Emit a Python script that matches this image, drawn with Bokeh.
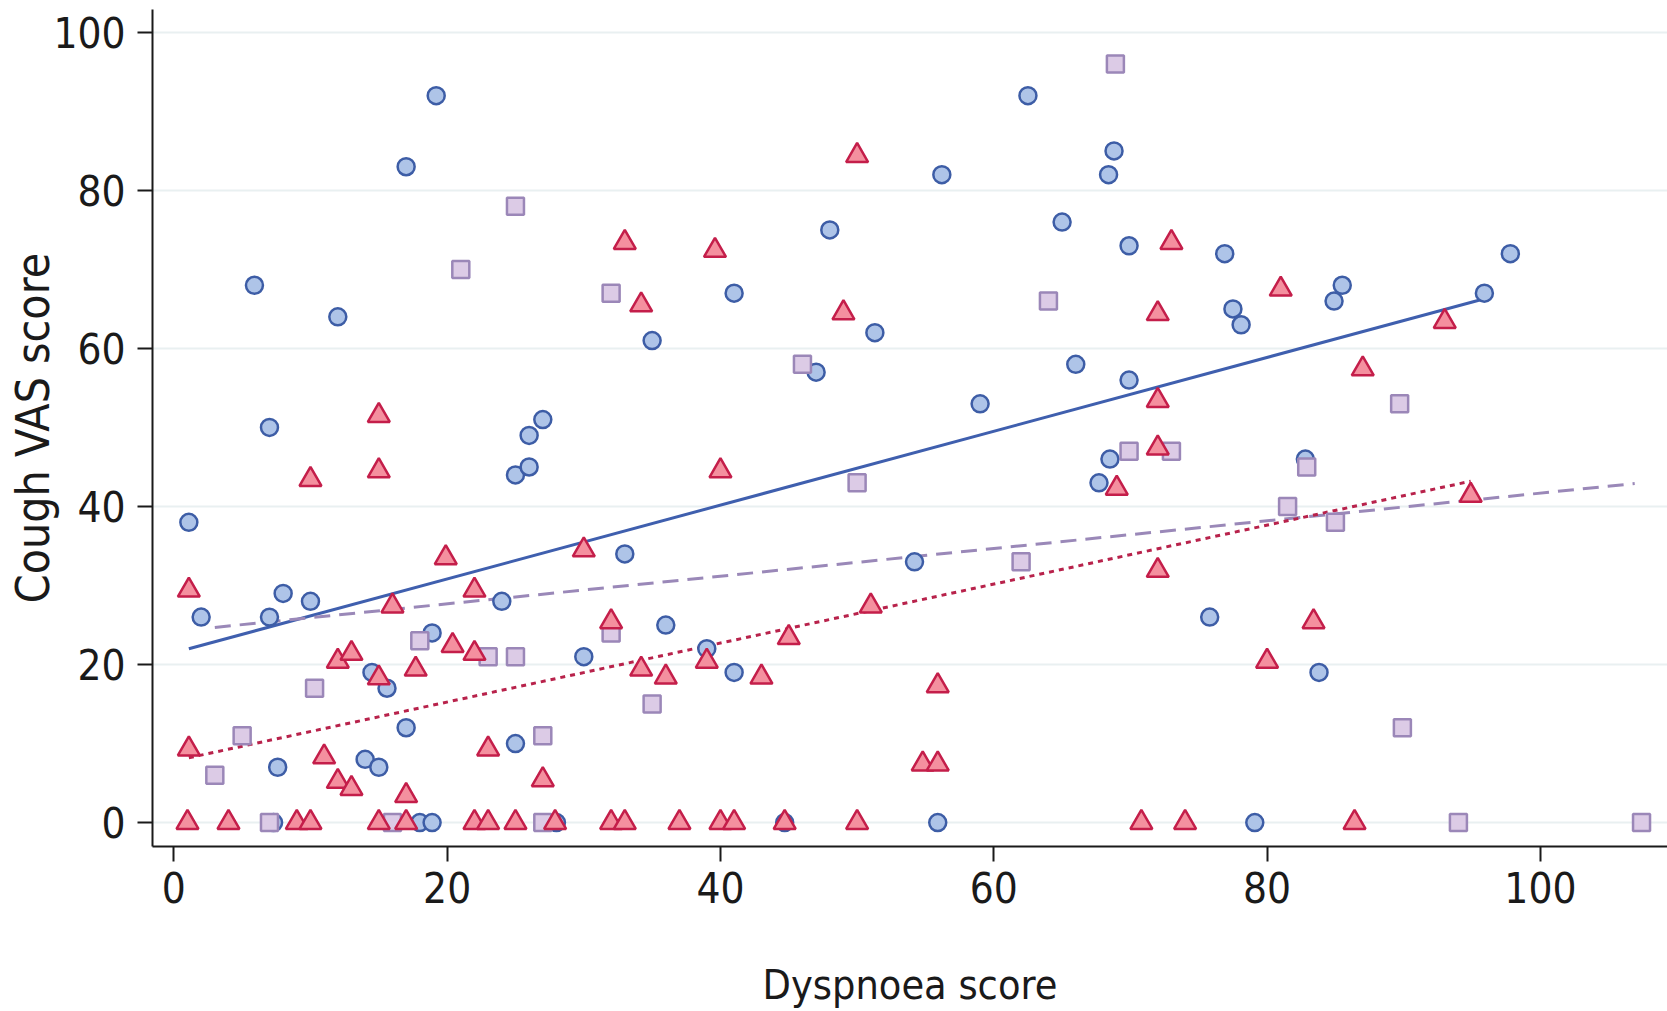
from bokeh.plotting import figure
from bokeh.models import Range1d, FixedTicker
from bokeh.embed import file_html
from bokeh.resources import INLINE

# ---- data ----
blue_x = [1.1, 2.0, 5.9, 7.0, 7.0, 8.0, 7.6, 7.3, 10, 12, 14, 14.5, 15, 15.6, 17, 17,
          18, 18.9, 18.9, 19.2, 24, 25, 25, 26, 26, 27, 28, 30, 33, 35, 36, 39, 41, 41,
          44.7, 47, 48, 51.3, 54.2, 55.9, 56.2, 59, 62.5, 65, 66, 67.7, 68.5, 68.4, 68.8,
          69.9, 69.9, 75.8, 76.9, 77.5, 78.1, 79.1, 82.8, 83.8, 84.9, 85.5, 95.9, 97.8]
blue_y = [38, 26, 68, 50, 26, 29, 7, 0, 28, 64, 8, 19, 7, 17, 83, 12,
          0, 24, 0, 92, 28, 44, 10, 49, 45, 51, 0, 21, 34, 61, 25, 22, 67, 19,
          0, 57, 75, 62, 33, 0, 82, 53, 92, 76, 58, 43, 46, 82, 85,
          56, 73, 26, 72, 65, 63, 0, 46, 19, 66, 68, 67, 72]

red_x = [1.1, 1.1, 1, 4, 9, 10, 10, 11, 12, 12, 13, 13, 15, 15, 15, 15, 16, 17, 17, 17.7,
         19.9, 20.4, 22, 22, 22, 23, 23, 25, 27, 27.9, 30, 32, 32, 33, 33, 34.2, 34.2, 36,
         37, 39, 39.6, 40, 40, 41, 43, 44.7, 45, 49, 50, 50, 51, 54.8, 55.9, 55.9,
         70.8, 69, 72, 72, 72, 72, 73, 74, 80, 81, 83.4, 86.4, 87, 93, 94.9]
red_y = [29.4, 9.3, 0, 0, 0, 0, 43.4, 8.3, 20.4, 5.2, 21.4, 4.3, 51.5, 44.5, 18.3, 0, 27.4, 3.4, 0, 19.4,
         33.5, 22.4, 29.4, 21.4, 0, 9.3, 0, 0, 5.4, 0, 34.5, 25.4, 0, 73.4, 0, 65.5, 19.4, 18.4,
         0, 20.4, 72.4, 0, 44.5, 0, 18.4, 0, 23.4, 64.5, 84.4, 0, 27.4, 7.4, 7.4, 17.3,
         0, 42.3, 64.4, 53.4, 47.4, 31.9, 73.4, 0, 20.4, 67.5, 25.4, 0, 57.4, 63.4, 41.4]

purple_x = [3, 5, 7, 10.3, 16, 18, 21, 23, 25, 25, 27, 27, 32, 32, 35, 46, 50, 62, 64,
            68.9, 69.9, 73, 81.5, 82.9, 85, 89.9, 89.7, 94, 107.4]
purple_y = [6, 11, 0, 17, 0, 23, 70, 21, 78, 21, 11, 0, 67, 24, 15, 58, 43, 33, 66,
            96, 47, 47, 40, 45, 38, 12, 53, 0, 0]

# fitted lines (end points)
blue_fit_x = [1.1, 95.7]
blue_fit_y = [22.0, 66.2]
red_fit_x = [1.1, 94.9]
red_fit_y = [8.2, 43.2]
purple_fit_x = [3.0, 106.9]
purple_fit_y = [24.7, 42.9]

x_ticks = [0, 20, 40, 60, 80, 100]
y_ticks = [0, 20, 40, 60, 80, 100]

FONT = "DejaVu Sans Condensed"
INK = "#1a1a1a"

p = figure(width=1667, height=1011, output_backend="svg", toolbar_location=None,
           x_range=Range1d(-1.56, 109.3), y_range=Range1d(-3.03, 102.9),
           min_border_left=152, min_border_right=0, min_border_top=9, min_border_bottom=164)

p.outline_line_color = None
p.background_fill_color = "white"
p.border_fill_color = "white"
p.xgrid.grid_line_color = None
p.ygrid.grid_line_color = "#e9f0f1"
p.ygrid.grid_line_width = 2

p.xaxis.ticker = FixedTicker(ticks=x_ticks)
p.yaxis.ticker = FixedTicker(ticks=y_ticks)

for ax in (p.xaxis, p.yaxis):
    ax.axis_line_color = INK
    ax.axis_line_width = 2
    ax.major_tick_line_color = INK
    ax.major_tick_line_width = 2
    ax.major_tick_in = 0
    ax.major_tick_out = 15
    ax.minor_tick_line_color = None
    ax.major_label_text_font = FONT
    ax.major_label_text_font_size = "42px"
    ax.major_label_text_color = INK
    ax.axis_label_text_font = FONT
    ax.axis_label_text_font_style = "normal"
    ax.axis_label_text_color = INK

p.xaxis.axis_label = "Dyspnoea score"
p.yaxis.axis_label = "Cough VAS score"
p.xaxis.axis_label_text_font_size = "41px"
p.yaxis.axis_label_text_font_size = "46px"
p.xaxis.major_label_standoff = 10
p.yaxis.major_label_standoff = 12
p.xaxis.axis_label_standoff = 55
p.yaxis.axis_label_standoff = -10

# fit lines
p.line(blue_fit_x, blue_fit_y, line_color="#3f5fae", line_width=3)
p.line(purple_fit_x, purple_fit_y, line_color="#9a88b8", line_width=3, line_dash="16 9")
p.line(red_fit_x, red_fit_y, line_color="#b8224b", line_width=3, line_dash="5 5")

# markers
p.scatter(blue_x, blue_y, marker="circle", size=17, fill_color="#aec4e8",
          line_color="#3d5da6", line_width=2.5)
p.scatter(purple_x, purple_y, marker="square", size=17, fill_color="#dccbe6",
          line_color="#9b87b8", line_width=2.5)
p.scatter(red_x, red_y, marker="triangle", size=22, fill_color="#f4909f",
          line_color="#c41e4a", line_width=2.5)

open("out.html", "w").write(file_html(p, INLINE))
